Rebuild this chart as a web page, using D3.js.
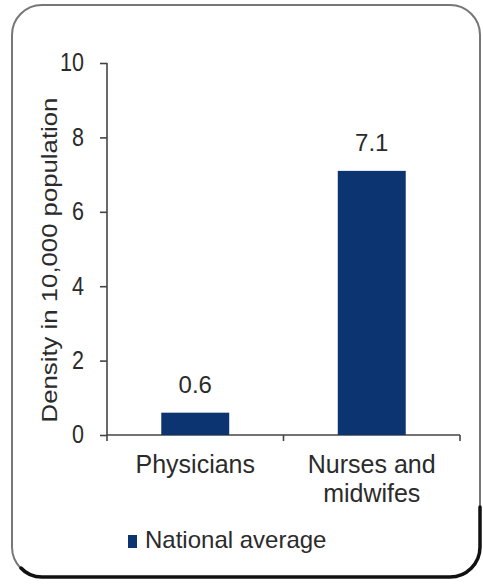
<!DOCTYPE html>
<html>
<head>
<meta charset="utf-8">
<script src="https://cdn.jsdelivr.net/npm/d3@7"></script>
<style>
  html, body { margin: 0; padding: 0; background: #fff; }
  text { font-family: "Liberation Sans", Arial, sans-serif; fill: #2b2b2b; }
</style>
</head>
<body>
<div id="chart"></div>
<script>
// data
const categories = ["Physicians", "Nurses and midwifes"];
const categoryLines = [["Physicians"], ["Nurses and", "midwifes"]];
const values = [0.6, 7.1];
const valueLabels = ["0.6", "7.1"];
const yTicks = [0, 2, 4, 6, 8, 10];
const seriesName = "National average";

const svgWidth = 483, svgHeight = 584;
const margin = { top: 63, left: 107, bottom: 149, right: 23 };
const width = svgWidth - margin.left - margin.right;
const height = svgHeight - margin.top - margin.bottom;

const svg = d3.select("#chart").append("svg")
  .attr("width", svgWidth)
  .attr("height", svgHeight);

// rounded frame
const fx0 = 12, fy0 = 5, fx1 = 480, fy1 = 577, r = 30;
svg.append("rect")
  .attr("x", fx0).attr("y", fy0)
  .attr("width", fx1 - fx0).attr("height", fy1 - fy0)
  .attr("rx", r).attr("ry", r)
  .attr("fill", "#fff")
  .attr("stroke", "#777")
  .attr("stroke-width", 2);
// dark shadow along the bottom edge
const path = d3.path();
path.moveTo(fx0 + 9, fy1 - 9);
path.quadraticCurveTo(fx0 + 17, fy1, fx0 + r, fy1);
path.lineTo(fx1 - r, fy1);
path.arcTo(fx1, fy1, fx1, fy1 - r, r);
path.lineTo(fx1, fy1 - r - 40);
svg.append("path")
  .attr("d", path.toString())
  .attr("fill", "none")
  .attr("stroke", "#111")
  .attr("stroke-width", 3.5)
  .attr("stroke-linecap", "round");

const g = svg.append("g")
  .attr("transform", "translate(" + margin.left + "," + margin.top + ")");

const yScale = d3.scaleLinear().domain([0, 10]).range([height, 0]);
const xOuter = d3.scaleBand().domain(categories).range([0, width]).padding(0);
const xScale = d3.scaleBand().domain(categories).range([0, width])
  .paddingInner(0.615).paddingOuter(0.3075);

// y axis
const yAxis = g.append("g")
  .call(d3.axisLeft(yScale).tickValues(yTicks).tickSize(7).tickPadding(16).tickSizeOuter(0));
yAxis.selectAll("path, line").attr("stroke", "#444").attr("stroke-width", 1.6);
yAxis.selectAll("text")
  .style("font-size", "21.5px")
  .attr("fill", "#2b2b2b")
  .attr("transform", "scale(1,1.16)");
yAxis.select(".domain").attr("d", "M0," + yScale(10) + "V" + yScale(0));

// x axis with ticks at category boundaries
const xAxis = g.append("g")
  .attr("transform", "translate(0," + height + ")");
xAxis.append("line")
  .attr("x1", 0).attr("x2", width)
  .attr("stroke", "#444").attr("stroke-width", 1.6);
const bounds = categories.map(c => xOuter(c)).concat([width]);
xAxis.selectAll(".bt").data(bounds).enter().append("line")
  .attr("x1", d => d).attr("x2", d => d)
  .attr("y1", 0).attr("y2", 6)
  .attr("stroke", "#444").attr("stroke-width", 1.6);

// bars
g.selectAll(".bar").data(values).enter().append("rect")
  .attr("x", (d, i) => xScale(categories[i]))
  .attr("y", d => yScale(d))
  .attr("width", xScale.bandwidth())
  .attr("height", d => height - yScale(d))
  .attr("fill", "#0b3470");

// value labels
g.selectAll(".val").data(values).enter().append("text")
  .attr("x", (d, i) => xScale(categories[i]) + xScale.bandwidth() / 2)
  .attr("y", d => yScale(d) - 20)
  .attr("text-anchor", "middle")
  .style("font-size", "24px")
  .text((d, i) => valueLabels[i]);

// category labels
categoryLines.forEach(function(lines, i) {
  const t = g.append("text")
    .attr("x", xOuter(categories[i]) + xOuter.bandwidth() / 2)
    .attr("y", height + 38)
    .attr("text-anchor", "middle")
    .style("font-size", "25px");
  lines.forEach(function(l, j) {
    t.append("tspan")
      .attr("x", xOuter(categories[i]) + xOuter.bandwidth() / 2)
      .attr("dy", j === 0 ? 0 : 29)
      .text(l);
  });
});

// y label
svg.append("text")
  .attr("transform", "translate(57," + (margin.top + height / 2 + 11) + ") rotate(-90) scale(1.17,1)")
  .attr("text-anchor", "middle")
  .style("font-size", "22px")
  .text("Density in 10,000 population");

// legend
const legend = svg.append("g").attr("transform", "translate(128,535)");
legend.append("rect")
  .attr("width", 9).attr("height", 13)
  .attr("fill", "#0b3470");
legend.append("text")
  .attr("x", 17).attr("y", 13)
  .style("font-size", "24px")
  .text(seriesName);
</script>
</body>
</html>
